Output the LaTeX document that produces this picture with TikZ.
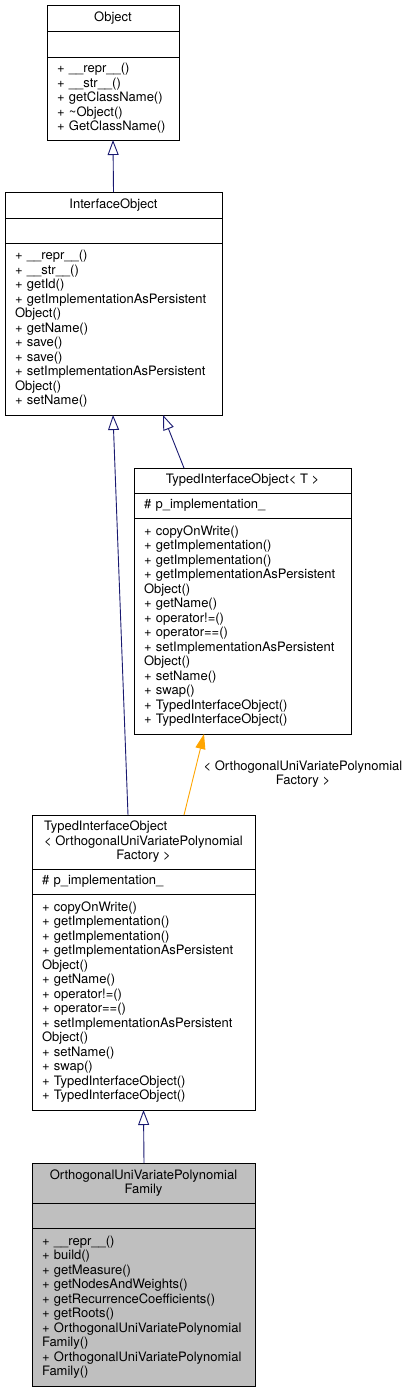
\documentclass[tikz,border=0pt]{standalone}
\usepackage{fontspec}
\setmainfont{TeX Gyre Heros}
\usetikzlibrary{arrows.meta,positioning}
\definecolor{edgeblue}{HTML}{191970}
\definecolor{edgeorange}{HTML}{FFA500}
\definecolor{classgray}{HTML}{BFBFBF}
\begin{document}
\begin{tikzpicture}[x=1pt, y=-1pt,
  font=\fontsize{13}{14.5}\selectfont,
  box/.style={draw, line width=0.8pt, outer sep=0pt, inner sep=0pt},
  head/.style={box, anchor=north, align=center},
  members/.style={box, inner xsep=10pt, align=left},
  inherit/.style={draw=edgeblue, line width=0.9pt, -{Triangle[open, length=15pt, width=11pt]}},
  instance/.style={draw=edgeorange, line width=0.9pt, -{Triangle[length=15pt, width=10pt]}}]
\useasboundingbox (0,0) rectangle (409,1392);
% Object
\node[head, minimum width=132, minimum height=26] (O) at (113,5) {Object};
\node[members, below=0pt of O, minimum width=132, minimum height=26] (Oa) {};
\node[members, below=0pt of Oa, text width=112, minimum height=83] (Om) {+ \_\_repr\_\_()\\+ \_\_str\_\_()\\+ getClassName()\\+ \textasciitilde Object()\\+ GetClassName()};
% InterfaceObject
\node[head, minimum width=217, minimum height=26] (I) at (113.5,192) {InterfaceObject};
\node[members, below=0pt of I, minimum width=217, minimum height=25] (Ia) {};
\node[members, below=0pt of Ia, text width=197, minimum height=172] (Im) {+ \_\_repr\_\_()\\+ \_\_str\_\_()\\+ getId()\\+ getImplementationAsPersistent\\Object()\\+ getName()\\+ save()\\+ save()\\+ setImplementationAsPersistent\\Object()\\+ setName()};
% TypedInterfaceObject< T >
\node[head, minimum width=217, minimum height=25] (T) at (242.5,468) {TypedInterfaceObject< T >};
\node[members, below=0pt of T, text width=197, minimum height=25] (Ta) {\# p\_implementation\_};
\node[members, below=0pt of Ta, text width=197, minimum height=216] (Tm) {+ copyOnWrite()\\+ getImplementation()\\+ getImplementation()\\+ getImplementationAsPersistent\\Object()\\+ getName()\\+ operator!=()\\+ operator==()\\+ setImplementationAsPersistent\\Object()\\+ setName()\\+ swap()\\+ TypedInterfaceObject()\\+ TypedInterfaceObject()};
% TypedInterfaceObject< OrthogonalUniVariatePolynomialFactory >
\node[head, minimum width=223, minimum height=54] (F) at (143.5,815) {\rlap{TypedInterfaceObject}\hphantom{< OrthogonalUniVariatePolynomial}\\< OrthogonalUniVariatePolynomial\\Factory >};
\node[members, below=0pt of F, text width=203, minimum height=25] (Fa) {\# p\_implementation\_};
\node[members, below=0pt of Fa, text width=203, minimum height=216] (Fm) {+ copyOnWrite()\\+ getImplementation()\\+ getImplementation()\\+ getImplementationAsPersistent\\Object()\\+ getName()\\+ operator!=()\\+ operator==()\\+ setImplementationAsPersistent\\Object()\\+ setName()\\+ swap()\\+ TypedInterfaceObject()\\+ TypedInterfaceObject()};
% OrthogonalUniVariatePolynomialFamily
\node[head, fill=classgray, minimum width=223, minimum height=40] (P) at (143.5,1163) {OrthogonalUniVariatePolynomial\\Family};
\node[members, fill=classgray, below=0pt of P, minimum width=223, minimum height=25] (Pa) {};
\node[members, fill=classgray, below=0pt of Pa, text width=203, minimum height=158] (Pm) {+ \_\_repr\_\_()\\+ build()\\+ getMeasure()\\+ getNodesAndWeights()\\+ getRecurrenceCoefficients()\\+ getRoots()\\+ OrthogonalUniVariatePolynomial\\Family()\\+ OrthogonalUniVariatePolynomial\\Family()};
% edges
\draw[inherit] (I.north) -- (Om.south);
\draw[inherit] ([xshift=-58.5]T.north) -- ([xshift=49.5]Im.south);
\draw[inherit] ([xshift=-15.5]F.north) -- ([xshift=-0.5]Im.south);
\draw[instance] ([xshift=40.5]F.north) -- ([xshift=-38.5]Tm.south);
\node[align=center] (lbl) at (303,774) {< OrthogonalUniVariatePolynomial\\Factory >};
\draw[inherit] ([xshift=0.5]P.north) -- (Fm.south);
\end{tikzpicture}
\end{document}
